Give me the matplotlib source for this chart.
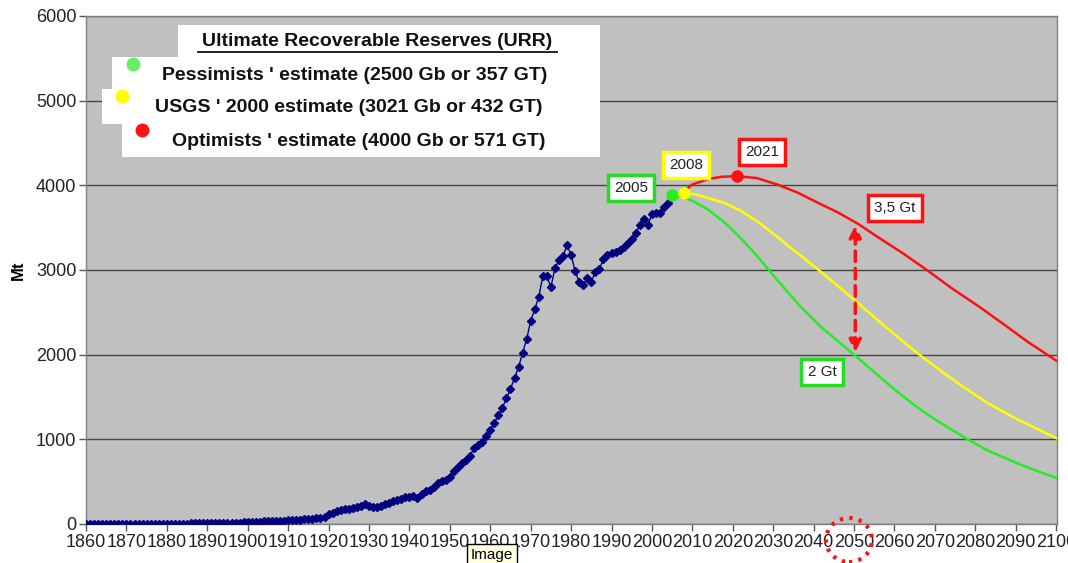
import numpy as np
import matplotlib.pyplot as plt
from matplotlib.patches import Rectangle, Ellipse
from matplotlib.lines import Line2D

plt.rcParams['font.family'] = ['Liberation Sans', 'DejaVu Sans']

# historical world oil production (Mt), 1860-2005
years_hist = list(range(1860, 2006))
prod_hist = [0, 0, 0, 0, 0, 0, 0, 0, 0, 1,
             1, 1, 1, 2, 2, 2, 2, 2, 3, 4,
             4, 4, 4, 5, 5, 5, 6, 7, 8, 9,
             10, 12, 13, 13, 13, 14, 15, 16, 17, 18,
             20, 23, 25, 27, 30, 30, 30, 36, 39, 41,
             44, 46, 47, 52, 54, 58, 61, 68, 68, 85,
             120, 135, 150, 165, 172, 177, 185, 200, 212, 236,
             215, 200, 198, 212, 232, 250, 268, 283, 300, 318,
             320, 330, 307, 350, 390, 402, 440, 484, 505, 520,
             555, 630, 677, 720, 760, 803, 897, 933, 968, 1040,
             1110, 1192, 1287, 1370, 1487, 1594, 1724, 1853, 2019, 2184,
             2397, 2538, 2680, 2928, 2928, 2798, 3022, 3117, 3164, 3294,
             3176, 2990, 2857, 2820, 2900, 2860, 2980, 3010, 3130, 3176,
             3200, 3211, 3235, 3270, 3317, 3365, 3435, 3530, 3600, 3530,
             3660, 3670, 3670, 3740, 3790, 3880]

# forecasts
years_pess = [2005, 2010, 2014, 2018, 2022, 2026, 2029, 2033, 2037, 2042, 2046,
              2050, 2054, 2060, 2065, 2070, 2077, 2083, 2090, 2095, 2100]
prod_pess = [3890, 3820, 3710, 3560, 3375, 3165, 2995, 2770, 2555, 2320, 2160,
             2000, 1835, 1590, 1400, 1235, 1030, 870, 725, 630, 545]

years_usgs = [2008, 2011, 2014, 2018, 2022, 2026, 2030, 2034, 2038, 2042, 2046,
              2050, 2054, 2058, 2062, 2066, 2072, 2077, 2083, 2089, 2095, 2100]
prod_usgs = [3915, 3890, 3850, 3790, 3700, 3575, 3430, 3275, 3125, 2970, 2810,
             2650, 2485, 2320, 2160, 2005, 1790, 1620, 1430, 1270, 1130, 1015]

years_opt = [2008, 2010, 2014, 2017, 2021, 2026, 2031, 2036, 2041, 2046, 2051,
             2056, 2062, 2068, 2074, 2081, 2087, 2093, 2100]
prod_opt = [3935, 4010, 4075, 4100, 4110, 4085, 4010, 3915, 3795, 3680, 3545,
            3385, 3200, 3000, 2790, 2565, 2360, 2150, 1930]

peaks = {'green': (2005, 3890), 'yellow': (2008, 3915), 'red': (2021, 4110)}
gap_year, gap_hi, gap_lo = 2050.3, 3530, 2030

xticks = list(range(1860, 2101, 10))
yticks = list(range(0, 6001, 1000))

legend_title = 'Ultimate Recoverable Reserves (URR)'
legend_rows = ["Pessimists ' estimate (2500 Gb or 357 GT)",
               "USGS ' 2000 estimate (3021 Gb or 432 GT)",
               "Optimists ' estimate (4000 Gb or 571 GT)"]

W, H = 1068, 563
fig = plt.figure(figsize=(W / 100, H / 100), dpi=100)
ax = fig.add_axes([86 / W, 1 - 524 / H, (1057 - 86) / W, (524 - 16) / H])
ax.set_facecolor('#c0c0c0')


def px(x, y):
    return (x / W, 1 - y / H)


ax.plot(years_hist, prod_hist, color='#000080', lw=1, marker='D', ms=4.2,
        mec='#000080', mfc='#000080', zorder=3)
ax.plot(years_pess, prod_pess, color='#22ee22', lw=1.8, zorder=3)
ax.plot(years_usgs, prod_usgs, color='#ffff00', lw=1.8, zorder=3)
ax.plot(years_opt, prod_opt, color='#ff1010', lw=1.8, zorder=3)
ax.plot(*peaks['green'], 'o', color='#22ee22', ms=8, zorder=4)
ax.plot(*peaks['yellow'], 'o', color='#ffff00', ms=8, zorder=4)
ax.plot(*peaks['red'], 'o', color='#ff1010', ms=8, zorder=4)

ax.annotate('', xy=(gap_year, gap_hi), xytext=(gap_year, gap_lo),
            arrowprops=dict(arrowstyle='<|-|>', color='#ff1010', lw=2.5,
                            linestyle=(0, (3, 2)), mutation_scale=18,
                            shrinkA=0, shrinkB=0), zorder=5)

ax.set_xlim(1860, 2100.2)
ax.set_ylim(0, 6000)
ax.set_xticks(xticks)
ax.set_xticklabels([str(t) for t in xticks], fontsize=13)
ax.set_yticks(yticks)
ax.set_yticklabels([str(t) for t in yticks], fontsize=13)
ax.tick_params(axis='both', direction='out', length=5, width=1, color='#555555',
               pad=2, labelcolor='#222222')
ax.yaxis.grid(True, color='#444444', lw=1)
ax.set_axisbelow(True)
for s in ax.spines.values():
    s.set_color('#808080')
    s.set_linewidth(1)
ax.set_ylabel('Mt', fontsize=12, fontweight='bold')
ax.yaxis.set_label_coords(-0.062, 0.5)

# legend block (white staggered boxes)
boxes = [(178, 25, 600, 60), (112, 57, 600, 92), (102, 89, 600, 124),
         (122, 122, 600, 157)]
for x0, y0, x1, y1 in boxes:
    fig.add_artist(Rectangle(px(x0, y1), (x1 - x0) / W, (y1 - y0) / H,
                             transform=fig.transFigure, fc='white', ec='none',
                             zorder=5))
fig.text(*px(377, 42), legend_title, ha='center', va='center', fontsize=14,
         fontweight='bold', color='#111111', zorder=6)
fig.add_artist(Line2D([198 / W, 557 / W], [1 - 52 / H, 1 - 52 / H], color='#111111',
                      lw=1.3, transform=fig.transFigure, zorder=6))
row_pos = [(355, 76), (349, 107), (359, 141)]
dot_pos = [(133, 64), (122, 96), (142, 130)]
dot_col = ['#66ee66', '#ffff00', '#ff1010']
for txt, (tx, ty), (dx, dy), c in zip(legend_rows, row_pos, dot_pos, dot_col):
    fig.text(*px(tx, ty), txt, ha='center', va='center', fontsize=14,
             fontweight='bold', color='#111111', zorder=6)
    fig.add_artist(Line2D([dx / W], [1 - dy / H], marker='o', ms=9, color=c,
                          transform=fig.transFigure, zorder=6))

# labelled boxes
labels = [('2005', 631, 188, '#22dd22'), ('2008', 686, 165, '#ffff00'),
          ('2021', 762, 152, '#ff1010'), ('3,5 Gt', 895, 208, '#ff1010'),
          ('2 Gt', 822, 372, '#22dd22')]
for txt, x, y, c in labels:
    fig.text(*px(x, y), txt, ha='center', va='center', fontsize=11,
             color='#222222', zorder=7,
             bbox=dict(boxstyle='square,pad=0.42', fc='white', ec=c, lw=2.5))

# dotted circle around 2050
fig.add_artist(Ellipse(px(849, 540), 46 / W, 44 / H, transform=fig.transFigure,
                       fill=False, ec='#ff1010', lw=3, ls=(0, (0.8, 1.5)),
                       zorder=7))

# tooltip
fig.text(*px(492, 555), 'Image', ha='center', va='center', fontsize=11,
         zorder=8, bbox=dict(boxstyle='square,pad=0.25', fc='#ffffe1',
                             ec='black', lw=1))

fig.savefig('out.png', dpi=100, facecolor='white')
